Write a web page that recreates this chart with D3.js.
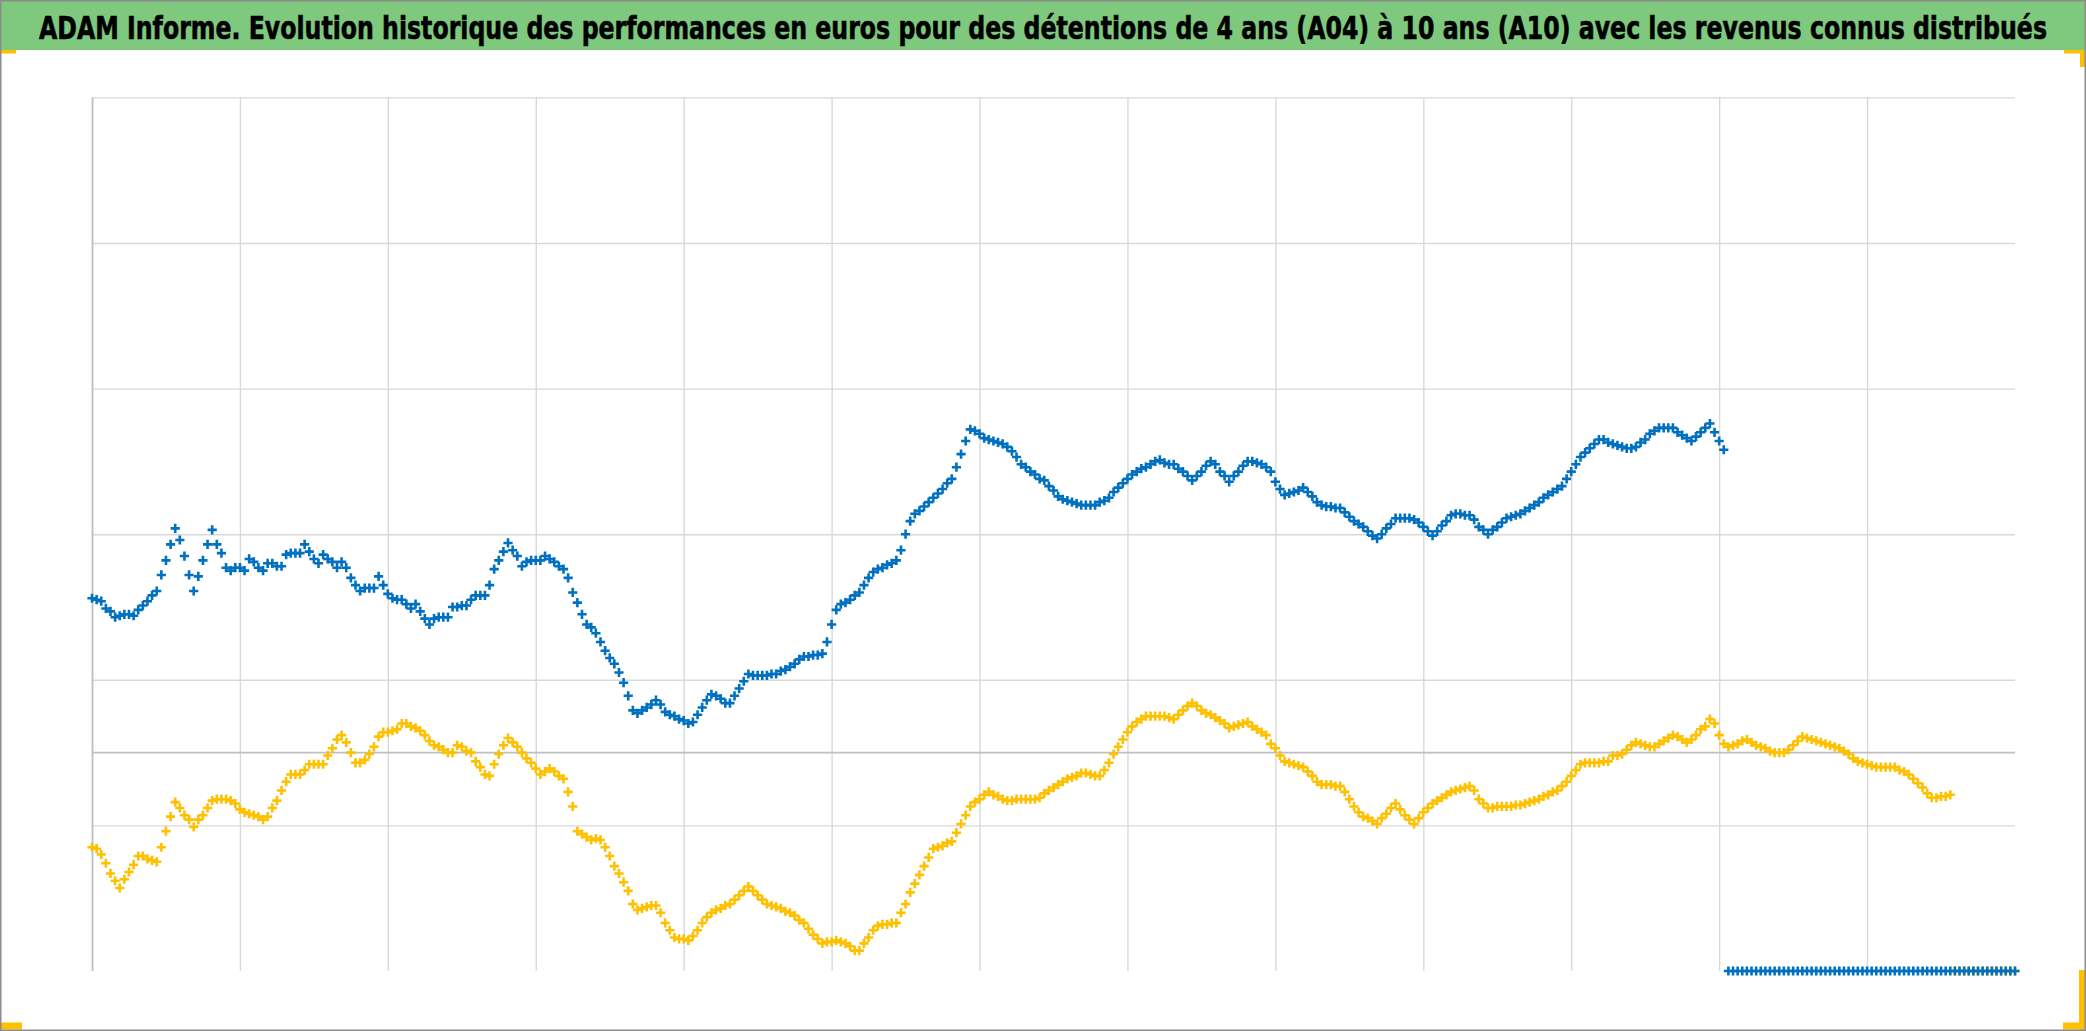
<!DOCTYPE html>
<html><head><meta charset="utf-8">
<script src="https://cdn.jsdelivr.net/npm/d3@7"></script>
<style>html,body{margin:0;padding:0;background:#fff;overflow:hidden}</style>
</head><body>
<svg id="chart" width="2086" height="1031"></svg>
<script>
// ---- data ----
const titleText = "ADAM Informe. Evolution historique des performances en euros pour des détentions de 4 ans (A04) à 10 ans (A10) avec les revenus connus distribués";
const seriesNames = ["A04", "A10"];
const seriesColors = ["#FFC000", "#0070C0"];

// A10 (10-year holding), euros; trailing values sit at the axis minimum (not yet known)
const a10 = [
 106,105,104,99,97,93,94,95,95,94,98,101,104,108,111,122,132,143,154,146,
 135,122,111,121,132,143,153,143,137,127,125,127,127,125,133,131,127,125,130,130,
 128,128,136,137,137,137,143,138,133,130,136,133,131,127,131,127,120,115,111,113,
 113,113,121,115,109,106,105,105,102,99,102,97,92,88,92,93,93,93,100,100,
 101,101,105,108,108,108,115,126,132,138,144,139,135,128,131,132,132,132,135,133,
 131,128,126,120,110,103,95,88,86,82,76,70,65,61,55,48,39,29,27,29,
 31,33,36,33,28,26,25,23,22,20,21,26,31,36,40,39,37,34,34,39,
 44,49,54,53,53,53,53,54,54,56,57,59,61,64,66,66,67,67,68,76,
 88,98,102,103,105,108,110,115,120,124,126,127,129,130,132,139,150,159,164,166,
 169,172,175,178,181,185,188,196,205,214,222,221,219,216,215,214,213,212,210,207,
 203,198,196,193,191,188,187,183,180,176,174,173,172,171,170,170,170,170,172,173,
 175,179,182,185,188,191,193,195,196,198,200,201,199,198,198,195,193,190,187,190,
 193,197,200,198,193,190,186,190,193,197,200,200,199,198,196,193,186,181,177,178,
 179,180,182,179,176,172,170,169,169,168,168,165,162,159,157,155,152,149,147,150,
 154,157,161,161,161,161,160,158,155,152,149,152,156,159,163,164,164,163,163,160,
 155,153,150,153,155,158,161,162,163,164,166,168,170,172,175,177,179,181,183,188,
 193,198,203,206,209,212,215,215,213,212,211,210,209,209,210,213,215,219,221,223,
 223,223,223,220,218,216,214,217,220,223,226,220,214,208,
 -150,-150,-150,-150,-150,-150,-150,-150,-150,-150,
 -150,-150,-150,-150,-150,-150,-150,-150,-150,-150,
 -150,-150,-150,-150,-150,-150,-150,-150,-150,-150,
 -150,-150,-150,-150,-150,-150,-150,-150,-150,-150,
 -150,-150,-150,-150,-150,-150,-150,-150,-150,-150,
 -150,-150,-150,-150,-150,-150,-150,-150,-150,-150,
 -150,-150,-150
];

// A04 (4-year holding), euros
const a04 = [
 -65,-66,-70,-76,-83,-88,-93,-87,-82,-77,-71,-71,-73,-74,-75,-65,-54,-44,-34,-38,
 -43,-46,-51,-46,-43,-38,-33,-32,-32,-32,-33,-35,-39,-41,-42,-43,-44,-46,-44,-38,
 -33,-26,-20,-15,-15,-15,-12,-8,-8,-8,-8,-2,3,9,12,7,0,-7,-7,-5,
 -1,4,11,14,14,15,16,20,20,18,17,15,12,8,5,4,2,0,0,5,
 4,1,0,-6,-10,-15,-16,-8,-1,5,10,7,4,0,-4,-7,-11,-15,-13,-11,
 -13,-16,-18,-27,-37,-54,-56,-58,-60,-59,-60,-65,-71,-78,-83,-89,-95,-104,-108,-107,
 -106,-105,-105,-110,-117,-122,-127,-128,-128,-129,-126,-122,-117,-113,-110,-108,-107,-105,-104,-101,
 -98,-95,-92,-95,-98,-101,-104,-105,-106,-107,-109,-110,-112,-115,-117,-121,-125,-128,-131,-130,
 -130,-129,-130,-131,-133,-136,-136,-131,-127,-122,-119,-118,-118,-117,-117,-110,-104,-96,-90,-84,
 -78,-72,-66,-65,-64,-62,-61,-55,-49,-43,-37,-34,-32,-29,-27,-29,-30,-32,-33,-33,
 -32,-32,-32,-32,-32,-31,-28,-26,-24,-22,-20,-18,-17,-16,-14,-14,-15,-16,-16,-12,
 -7,-1,4,9,14,18,21,23,25,25,25,25,25,24,23,26,29,32,34,32,
 29,27,26,24,22,20,17,18,19,20,21,18,16,14,12,6,3,-2,-6,-7,
 -8,-9,-10,-13,-16,-20,-22,-22,-22,-23,-23,-27,-32,-37,-41,-44,-45,-47,-49,-45,
 -42,-38,-35,-39,-43,-46,-49,-45,-41,-38,-35,-33,-31,-29,-27,-26,-25,-24,-23,-26,
 -32,-35,-38,-38,-37,-37,-37,-37,-36,-36,-35,-34,-33,-32,-30,-29,-27,-26,-23,-20,
 -16,-12,-8,-7,-7,-7,-7,-6,-6,-2,-2,-1,2,5,7,6,5,4,4,6,
 8,10,12,11,9,7,9,12,16,18,23,20,12,6,4,5,6,8,9,7,
 5,4,3,1,0,0,0,2,5,8,11,10,9,8,7,6,5,4,3,1,
 -1,-4,-6,-7,-8,-9,-10,-10,-10,-10,-10,-12,-13,-15,-18,-21,-24,-28,-31,-31,
 -30,-30,-29,
 -150,-150,-150,-150,-150,-150,-150,-150,-150,-150,
 -150,-150,-150,-150
];

const xGridTicks = [0,32,64,96,128,160,192,224,256,288,320,352,384];
const yGridTicks = [-50,50,150,250,350,450];
const yAxisCross = [0];
const xDomain = [0, 416];
const yDomain = [-150, 450];

// ---- layout ----
const W = 2086, H = 1031;
const plot = {left: 92, right: 2015, top: 97.4, bottom: 971};

const svg = d3.select("#chart");
svg.append("rect").attr("width", W).attr("height", H).attr("fill", "#fff");

const x = d3.scaleLinear().domain(xDomain).range([plot.left, plot.right]);
const y = d3.scaleLinear().domain(yDomain).range([plot.bottom, plot.top]);

// horizontal gridlines
const gy = svg.append("g").attr("transform", `translate(${plot.left},0)`)
  .call(d3.axisLeft(y).tickValues(yGridTicks).tickSize(-(plot.right - plot.left)).tickFormat(""));
gy.select(".domain").remove();
gy.selectAll(".tick line").attr("stroke", "#d9d9d9").attr("stroke-width", 1.4);

// vertical gridlines
const gx = svg.append("g").attr("transform", `translate(0,${plot.bottom})`)
  .call(d3.axisBottom(x).tickValues(xGridTicks).tickSize(-(plot.bottom - plot.top)).tickFormat(""));
gx.select(".domain").remove();
gx.selectAll(".tick line").attr("stroke", (d, i) => i === 0 ? "#bfbfbf" : "#d9d9d9").attr("stroke-width", (d, i) => i === 0 ? 1.8 : 1.4);

// horizontal axis line at 0
svg.append("g").selectAll("line").data(yAxisCross).join("line")
  .attr("x1", plot.left).attr("x2", plot.right)
  .attr("y1", d => y(d)).attr("y2", d => y(d))
  .attr("stroke", "#bfbfbf").attr("stroke-width", 1.8);

// markers
const plus = "M-4.6,0H4.6M0,-4.6V4.6";
function drawSeries(values, color) {
  svg.append("g").selectAll("path").data(values).join("path")
    .attr("d", plus)
    .attr("transform", (d, i) => `translate(${x(i)},${y(d)})`)
    .attr("fill", "none").attr("stroke", color).attr("stroke-width", 2.6);
}
drawSeries(a04, seriesColors[0]);
drawSeries(a10, seriesColors[1]);

// title bar
svg.append("rect").attr("x", 0).attr("y", 0).attr("width", W).attr("height", 50).attr("fill", "#7fc97f");
const baseline = 39.5;
const title = svg.append("text").attr("x", W / 2).attr("y", baseline)
  .attr("text-anchor", "middle")
  .attr("font-weight", "bold").attr("font-size", 32)
  .attr("fill", "#000").attr("stroke", "#000").attr("stroke-width", 0.5)
  .text(titleText);

// pick a narrow installed font so the natural width fits the bar
const candidates = ["Liberation Sans Narrow", "DejaVu Sans Condensed", "Roboto Condensed", "Open Sans", "Liberation Sans"];
function widthWith(fam) { title.attr("font-family", fam); return title.node().getComputedTextLength(); }
const refW = widthWith("monospace");
let chosen = "'Open Sans', sans-serif";
for (const c of candidates) {
  const w = widthWith(`'${c}', monospace`);
  if (Math.abs(w - refW) > 1) { chosen = `'${c}', sans-serif`; break; }
}
title.attr("font-family", chosen);
const targetW = 2008;
const natW = title.node().getComputedTextLength();
const fs = Math.min(34, 32 * targetW / natW);
title.attr("font-size", fs.toFixed(2));
// stretch vertically so the capitals reach the reference height (~23px)
const sy = Math.max(1, Math.min(1.4, 23 / (fs * 0.72)));
title.attr("transform", `translate(0,${baseline}) scale(1,${sy.toFixed(3)}) translate(0,${-baseline})`);

// selection handles
const handles = [
  {x: 0, y: 50, w: 16, h: 3.5},
  {x: 2064, y: 50, w: 22, h: 3.5},
  {x: 2080, y: 50, w: 6, h: 17},
  {x: 0, y: 1022.5, w: 22, h: 7},
  {x: 2063, y: 1022.5, w: 23, h: 7},
  {x: 2079, y: 970, w: 7, h: 60}
];
svg.append("g").selectAll("rect").data(handles).join("rect")
  .attr("x", d => d.x).attr("y", d => d.y).attr("width", d => d.w).attr("height", d => d.h)
  .attr("fill", "#FFC000");

// outer border
svg.append("rect").attr("x", 0.75).attr("y", 0.75).attr("width", W - 1.5).attr("height", H - 1.5)
  .attr("fill", "none").attr("stroke", "#8c8c8c").attr("stroke-width", 1.5);
</script>
</body></html>
